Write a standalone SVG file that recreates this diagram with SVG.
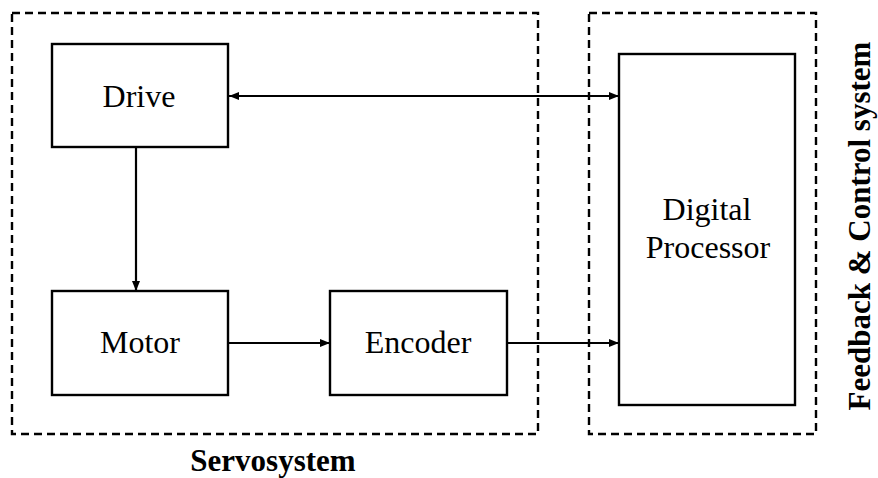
<svg xmlns="http://www.w3.org/2000/svg" width="878" height="478" viewBox="0 0 878 478">
  <style>
    .group { fill: none; stroke: #000; stroke-width: 2.4; stroke-dasharray: 8 5; }
    .block { fill: #fff; stroke: #000; stroke-width: 2.4; }
    .label { font-family: "Liberation Serif", "Times New Roman", serif; font-size: 32px; fill: #000; text-anchor: middle; }
    .title { font-family: "Liberation Serif", "Times New Roman", serif; font-size: 31px; font-weight: bold; fill: #000; text-anchor: middle; }
    .link { fill: none; stroke: #000; stroke-width: 2.2; }
  </style>
  <defs>
    <marker id="arrow" viewBox="0 0 10 10" refX="10" refY="5" markerWidth="10" markerHeight="10" markerUnits="userSpaceOnUse" orient="auto-start-reverse">
      <path d="M0,1 L10,5 L0,9 Z" fill="#000"/>
    </marker>
  </defs>

  <rect x="0" y="0" width="878" height="478" fill="#fff"/>

  <!-- dashed subsystem boundaries -->
  <g id="servosystem">
    <rect class="group" x="12" y="13" width="526" height="421"/>
    <text class="title" x="273" y="471">Servosystem</text>
  </g>
  <g id="feedback-control">
    <rect class="group" x="589" y="13" width="227" height="421"/>
    <text class="title" transform="translate(870,226) rotate(-90)">Feedback &amp; Control system</text>
  </g>

  <!-- connectors -->
  <g id="connectors">
    <line class="link" x1="229" y1="96" x2="619" y2="96" marker-start="url(#arrow)" marker-end="url(#arrow)"/>
    <line class="link" x1="136" y1="147" x2="136" y2="291" marker-end="url(#arrow)"/>
    <line class="link" x1="228" y1="343" x2="330" y2="343" marker-end="url(#arrow)"/>
    <line class="link" x1="507" y1="343" x2="619" y2="343" marker-end="url(#arrow)"/>
  </g>

  <!-- blocks -->
  <g id="drive">
    <rect class="block" x="52" y="44" width="176" height="103"/>
    <text class="label" x="139" y="107">Drive</text>
  </g>
  <g id="motor">
    <rect class="block" x="52" y="291" width="176" height="104"/>
    <text class="label" x="140" y="353">Motor</text>
  </g>
  <g id="encoder">
    <rect class="block" x="330" y="291" width="177" height="104"/>
    <text class="label" x="418" y="353">Encoder</text>
  </g>
  <g id="digital-processor">
    <rect class="block" x="619" y="54" width="176" height="351"/>
    <text class="label" x="707" y="220">Digital</text>
    <text class="label" x="708" y="258">Processor</text>
  </g>
</svg>
